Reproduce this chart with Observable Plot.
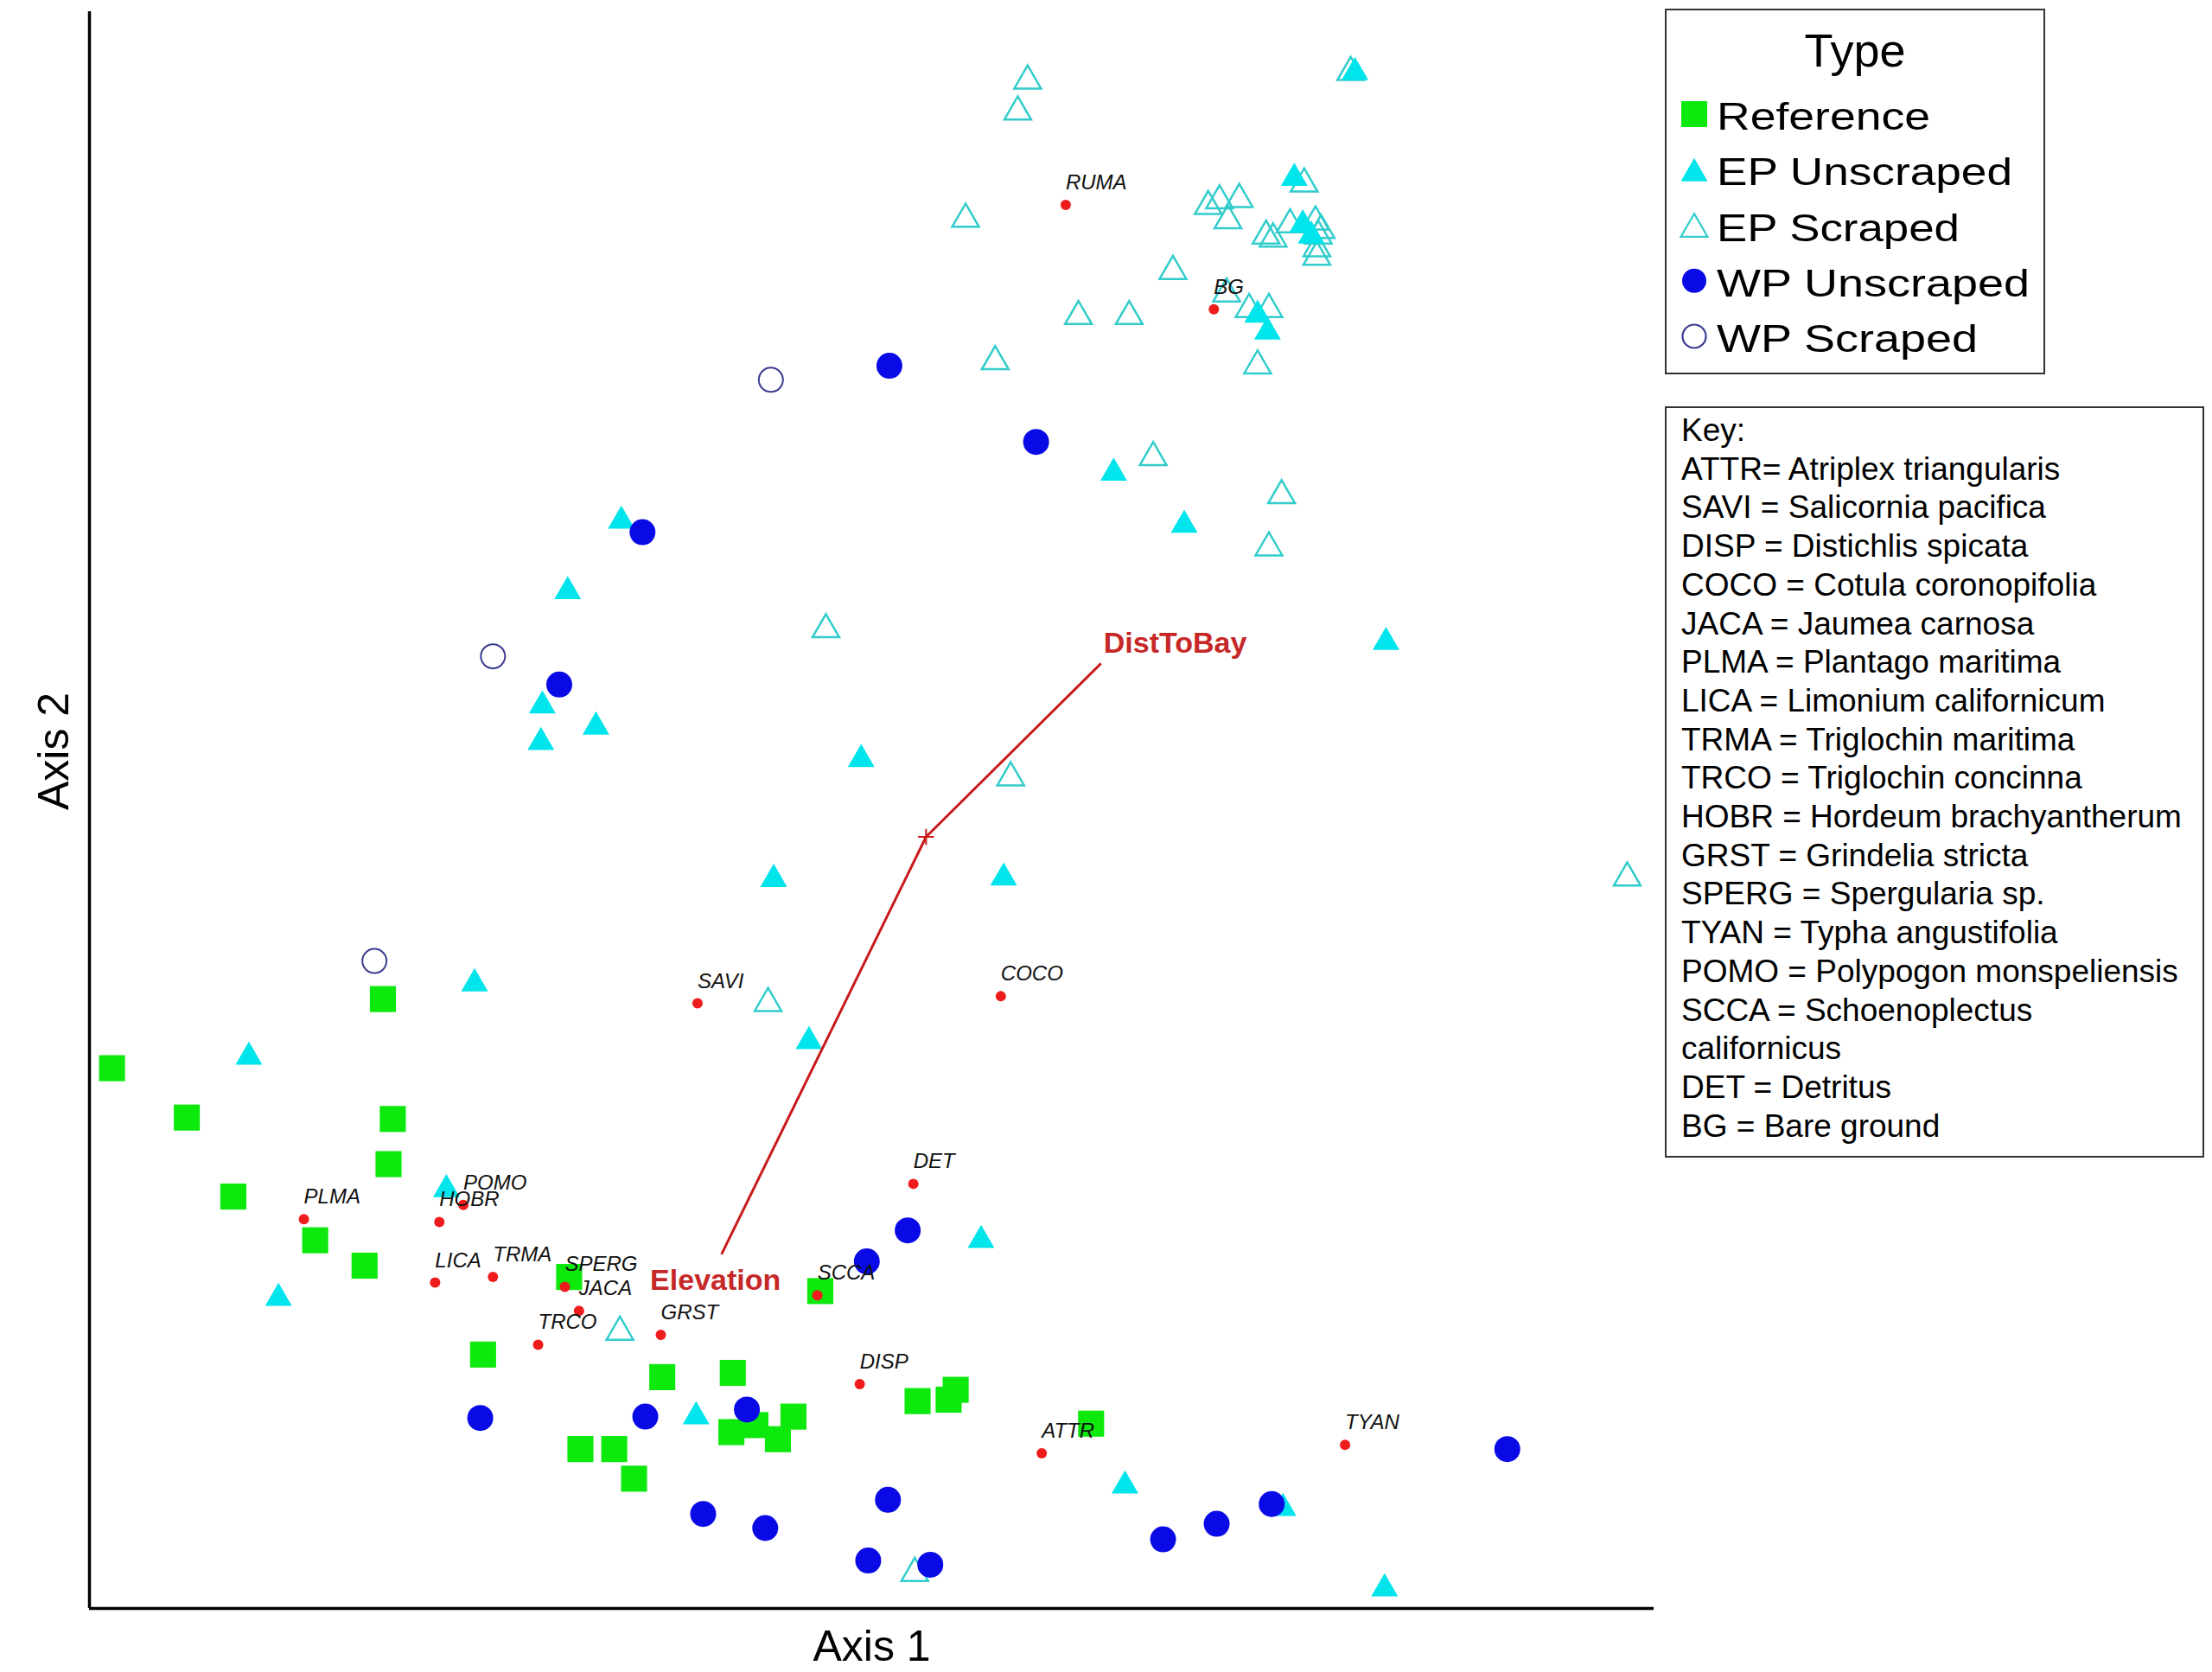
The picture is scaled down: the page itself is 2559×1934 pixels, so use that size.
<!DOCTYPE html>
<html><head><meta charset="utf-8">
<script src="https://cdn.jsdelivr.net/npm/d3@7"></script>
<script src="https://cdn.jsdelivr.net/npm/@observablehq/plot@0.6"></script>
<style>
html,body{margin:0;padding:0;background:#fff;}
#wrap{position:relative;width:2559px;height:1934px;overflow:hidden;background:#fff;}
#wrap > svg{position:absolute;left:0;top:0;}
</style></head><body><div id="wrap"></div>
<script>
// ---------- DATA (NMS ordination scores; arbitrary units) ----------
const reference = [[0.16,3.83],[0.69,3.48],[1.02,2.92],[1.60,2.61],[1.95,2.43],[2.08,4.32],[2.15,3.47],[2.12,3.15],
  [3.40,2.35],[2.79,1.80],[4.06,1.64],[4.56,1.67],[3.48,1.13],[3.72,1.13],[3.86,0.92],[4.55,1.25],[4.72,1.30],
  [4.88,1.20],[4.99,1.36],[5.18,2.25],[5.87,1.47],[6.09,1.48],[6.14,1.55],[7.10,1.31]];
const epUnscraped = [[8.97,10.89],[8.54,10.14],[8.60,9.81],[8.66,9.73],[8.28,9.17],[8.35,9.05],[7.26,8.05],[7.76,7.68],
  [9.19,6.85],[3.77,7.71],[3.39,7.21],[3.21,6.40],[3.59,6.25],[3.20,6.14],[5.47,6.02],[4.85,5.17],[6.48,5.18],
  [2.73,4.43],[1.13,3.91],[5.10,4.02],[2.53,2.97],[1.34,2.20],[6.32,2.61],[4.30,1.36],[7.34,0.87],[8.46,0.71],[9.18,0.14]];
const epScraped = [[6.65,10.83],[6.58,10.61],[8.94,10.89],[6.21,9.85],[7.93,9.94],[8.01,9.98],[8.15,9.99],[8.07,9.84],
  [8.61,10.10],[8.34,9.73],[8.39,9.71],[8.51,9.81],[8.69,9.83],[8.73,9.77],[8.71,9.73],[8.70,9.64],[8.70,9.58],
  [7.68,9.48],[8.06,9.32],[8.22,9.21],[8.36,9.21],[7.01,9.16],[7.37,9.16],[6.42,8.84],[8.28,8.81],[7.54,8.16],
  [8.45,7.89],[8.36,7.52],[5.22,6.94],[6.53,5.89],[10.90,5.18],[4.81,4.29],[3.76,1.96],[5.85,0.25]];
const wpUnscraped = [[5.67,8.81],[6.71,8.27],[3.92,7.63],[3.33,6.55],[5.80,2.68],[5.51,2.46],[2.77,1.35],[3.94,1.36],
  [4.66,1.41],[4.35,0.67],[4.79,0.57],[5.66,0.77],[5.52,0.34],[5.96,0.31],[7.61,0.49],[7.99,0.60],[8.38,0.74],[10.05,1.13]];
const wpScraped = [[4.83,8.71],[2.86,6.75],[2.02,4.59]];

const speciesCodes = ["RUMA","BG","SAVI","COCO","DET","PLMA","POMO","HOBR","LICA","TRMA","SPERG","JACA","TRCO","GRST","SCCA","DISP","ATTR","TYAN"];
const speciesAxis1 = [6.92,7.97,4.31,6.46,5.84,1.52,2.65,2.48,2.45,2.86,3.37,3.47,3.18,4.05,5.16,5.46,6.75,8.90];
const speciesAxis2 = [9.95,9.21,4.29,4.34,3.01,2.76,2.86,2.74,2.31,2.35,2.28,2.11,1.87,1.94,2.22,1.59,1.10,1.16];

const vectorOrigin = [5.93, 5.47];
const vectorNames = ["DistToBay","Elevation"];
const vectorAxis1 = [7.17, 4.48];
const vectorAxis2 = [6.70, 2.51];

const axis1Domain = [0, 11.09];
const axis2Domain = [0, 11.32];

const typeLabels = ["Reference","EP Unscraped","EP Scraped","WP Unscraped","WP Scraped"];
const keyLines = ["Key:","ATTR= Atriplex triangularis","SAVI = Salicornia pacifica","DISP = Distichlis spicata",
  "COCO = Cotula coronopifolia","JACA = Jaumea carnosa","PLMA = Plantago maritima","LICA = Limonium californicum",
  "TRMA = Triglochin maritima","TRCO = Triglochin concinna","HOBR = Hordeum brachyantherum","GRST = Grindelia stricta",
  "SPERG = Spergularia sp.","TYAN = Typha angustifolia","POMO = Polypogon monspeliensis","SCCA = Schoenoplectus",
  "californicus","DET = Detritus","BG = Bare ground"];

// ---------- STYLE ----------
const C = {green:"#0de80d", cyan:"#00e4ec", cyanLine:"#33cccc", blue:"#0a0ae6", navy:"#3b3b8f", red:"#ee1c1c", vec:"#c81a1a", vecText:"#c62828"};
const SANS = "'Liberation Sans', Arial, Helvetica, sans-serif";
function hasFont(name){
  const c = document.createElement("canvas").getContext("2d");
  const s = "RUMA SPERG mmmm WWii";
  c.font = "40px monospace"; const a = c.measureText(s).width;
  c.font = `40px '${name}', monospace`; const b = c.measureText(s).width;
  return Math.abs(a-b) > 0.5;
}
const narrow = hasFont("Liberation Sans Narrow");
const spFont = narrow ? "'Liberation Sans Narrow', 'Liberation Sans', Arial, sans-serif" : SANS;
const spSize = narrow ? 30 : 24;

const species = speciesCodes.map((c,i)=>({code:c, x:speciesAxis1[i], y:speciesAxis2[i]}));
const vectors = vectorNames.map((n,i)=>({name:n, x1:vectorOrigin[0], y1:vectorOrigin[1], x2:vectorAxis1[i], y2:vectorAxis2[i]}));
const px = d=>d[0], py = d=>d[1];

const plot = Plot.plot({
  width: 1920, height: 1934,
  marginLeft: 103, marginRight: 7, marginTop: 13, marginBottom: 74,
  x: {domain: axis1Domain, axis: null},
  y: {domain: axis2Domain, axis: null},
  style: {background: "white", fontFamily: SANS, color: "black"},
  marks: [
    Plot.dot(epScraped, {x: px, y: py, symbol: "triangle", r: 11.5, fill: "none", stroke: C.cyanLine, strokeWidth: 2.5}),
    Plot.dot(epUnscraped, {x: px, y: py, symbol: "triangle", r: 11.5, fill: C.cyan}),
    Plot.dot(reference, {x: px, y: py, symbol: "square", r: 17, fill: C.green}),
    Plot.dot(wpUnscraped, {x: px, y: py, symbol: "circle", r: 15, fill: C.blue}),
    Plot.dot(wpScraped, {x: px, y: py, symbol: "circle", r: 14, fill: "none", stroke: C.navy, strokeWidth: 2}),
    Plot.link(vectors, {x1: "x1", y1: "y1", x2: "x2", y2: "y2", stroke: C.vec, strokeWidth: 3}),
    Plot.dot([vectorOrigin], {x: px, y: py, symbol: "plus", r: 6, stroke: C.vec, strokeWidth: 2}),
    Plot.text(vectors.filter(d=>d.name==="DistToBay"), {x: "x2", y: "y2", text: "name", textAnchor: "start", lineAnchor: "bottom", dx: 3, dy: -12, fontSize: 34, fontWeight: "bold", fill: C.vecText}),
    Plot.text(vectors.filter(d=>d.name==="Elevation"), {x: "x2", y: "y2", text: "name", textAnchor: "middle", lineAnchor: "bottom", dx: -7, dy: 41, fontSize: 34, fontWeight: "bold", fill: C.vecText}),
    Plot.dot(species, {x: "x", y: "y", r: 6, fill: C.red}),
    Plot.text(species, {x: "x", y: "y", text: "code", textAnchor: "start", lineAnchor: "bottom", dx: 0, dy: -18, fontSize: spSize, fontStyle: "italic", fontFamily: spFont, fill: "#111"}),
    Plot.ruleX([axis1Domain[0]], {stroke: "black", strokeWidth: 3.5}),
    Plot.ruleY([axis2Domain[0]], {stroke: "black", strokeWidth: 3.5}),
    Plot.text(["Axis 1"], {frameAnchor: "bottom", text: d=>d, lineAnchor: "bottom", dy: 60, fontSize: 50, fill: "black"}),
    Plot.text(["Axis 2"], {frameAnchor: "left", text: d=>d, rotate: -90, lineAnchor: "bottom", dx: -25, fontSize: 50, fill: "black"})
  ]
});
const wrap = document.getElementById("wrap");
wrap.appendChild(plot);

// ---------- LEGENDS (overlay) ----------
const ov = d3.create("svg").attr("width", 2559).attr("height", 1934)
  .style("position","absolute").style("left","0px").style("top","0px").style("font-family", SANS);
ov.append("rect").attr("x",1927).attr("y",11).attr("width",438).attr("height",421)
  .attr("fill","white").attr("stroke","#333").attr("stroke-width",2);
ov.append("text").attr("x",2146).attr("y",77).attr("text-anchor","middle").attr("font-size",54).text("Type");
const legendSym = [
  {type: d3.symbolSquare, size: 900, fill: C.green, stroke: "none", off: 0},
  {type: d3.symbolTriangle, size: Math.PI*11.5*11.5, fill: C.cyan, stroke: "none", off: 4.5},
  {type: d3.symbolTriangle, size: Math.PI*11.5*11.5, fill: "none", stroke: C.cyanLine, off: 4.5},
  {type: d3.symbolCircle, size: Math.PI*14*14, fill: C.blue, stroke: "none", off: 0},
  {type: d3.symbolCircle, size: Math.PI*13.5*13.5, fill: "none", stroke: C.navy, off: 0}
];
const typeWidths = [247, 342, 281, 362, 302];
typeLabels.forEach((lab, i) => {
  const base = 150 + i*64.25;
  const s = legendSym[i];
  ov.append("path").attr("d", d3.symbol(s.type, s.size)())
    .attr("transform", `translate(1960,${base - 18 + s.off})`)
    .attr("fill", s.fill).attr("stroke", s.stroke).attr("stroke-width", 2.2);
  ov.append("text").attr("x",1986).attr("y",base).attr("font-size",44)
    .attr("textLength", typeWidths[i]).attr("lengthAdjust","spacingAndGlyphs").text(lab);
});
ov.append("rect").attr("x",1927).attr("y",471).attr("width",622).attr("height",867)
  .attr("fill","white").attr("stroke","#333").attr("stroke-width",2);
keyLines.forEach((t, i) => {
  ov.append("text").attr("x",1945).attr("y",510 + i*44.7).attr("font-size",37).text(t);
});
wrap.appendChild(ov.node());
</script></body></html>
